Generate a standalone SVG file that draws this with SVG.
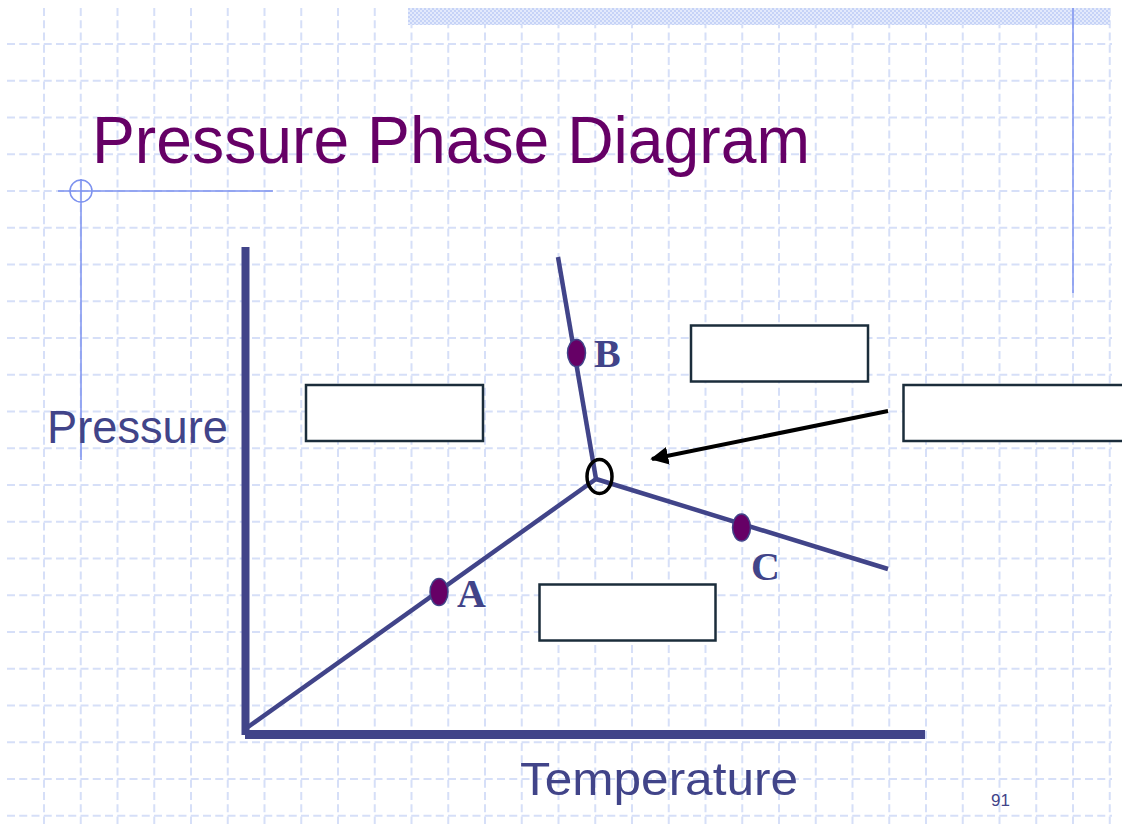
<svg xmlns="http://www.w3.org/2000/svg" width="1122" height="824" viewBox="0 0 1122 824">
<style>
.grid line{stroke:#d6dff8;stroke-width:2;stroke-dasharray:8 4.25}
.deco{stroke:#7d92ef;stroke-width:1.5;fill:none}
.curve{stroke:#414489;stroke-width:4.5;fill:none;stroke-linecap:butt}
.axis{stroke:#414489;fill:none}
.pt{fill:#660066;stroke:#414489;stroke-width:1.5}
.lbl{font-family:"Liberation Serif","Times New Roman",serif;font-weight:bold;font-size:40px;fill:#414489}
.box{fill:#fff;stroke:#1b2d3b;stroke-width:2.5}
.sans{font-family:"Liberation Sans",Arial,sans-serif}
</style>
<defs>
<pattern id="hatch" width="4" height="4" patternUnits="userSpaceOnUse">
<rect width="4" height="4" fill="#e3eafc"/>
<rect width="2" height="2" fill="#c6d3f7"/>
<rect x="2" y="2" width="2" height="2" fill="#c6d3f7"/>
</pattern>
<marker id="arr" viewBox="0 0 10 10" refX="9" refY="5" markerWidth="4.5" markerHeight="4.5" orient="auto" markerUnits="strokeWidth">
<path d="M0,0 L10,5 L0,10 z" fill="#000"/>
</marker>
</defs>
<rect width="1122" height="824" fill="#fff"/>
<g class="grid">
<line x1="7" y1="44" x2="1112" y2="44"/>
<line x1="7" y1="80.75" x2="1112" y2="80.75"/>
<line x1="7" y1="117.5" x2="1112" y2="117.5"/>
<line x1="7" y1="154.25" x2="1112" y2="154.25"/>
<line x1="7" y1="191" x2="1112" y2="191"/>
<line x1="7" y1="227.75" x2="1112" y2="227.75"/>
<line x1="7" y1="264.5" x2="1112" y2="264.5"/>
<line x1="7" y1="301.25" x2="1112" y2="301.25"/>
<line x1="7" y1="338" x2="1112" y2="338"/>
<line x1="7" y1="374.75" x2="1112" y2="374.75"/>
<line x1="7" y1="411.5" x2="1112" y2="411.5"/>
<line x1="7" y1="448.25" x2="1112" y2="448.25"/>
<line x1="7" y1="485" x2="1112" y2="485"/>
<line x1="7" y1="521.75" x2="1112" y2="521.75"/>
<line x1="7" y1="558.5" x2="1112" y2="558.5"/>
<line x1="7" y1="595.25" x2="1112" y2="595.25"/>
<line x1="7" y1="632" x2="1112" y2="632"/>
<line x1="7" y1="668.75" x2="1112" y2="668.75"/>
<line x1="7" y1="705.5" x2="1112" y2="705.5"/>
<line x1="7" y1="742.25" x2="1112" y2="742.25"/>
<line x1="7" y1="779" x2="1112" y2="779"/>
<line x1="7" y1="815.75" x2="1112" y2="815.75"/>
<line x1="44" y1="8" x2="44" y2="824"/>
<line x1="80.75" y1="8" x2="80.75" y2="824"/>
<line x1="117.5" y1="8" x2="117.5" y2="824"/>
<line x1="154.25" y1="8" x2="154.25" y2="824"/>
<line x1="191" y1="8" x2="191" y2="824"/>
<line x1="227.75" y1="8" x2="227.75" y2="824"/>
<line x1="264.5" y1="8" x2="264.5" y2="824"/>
<line x1="301.25" y1="8" x2="301.25" y2="824"/>
<line x1="338" y1="8" x2="338" y2="824"/>
<line x1="374.75" y1="8" x2="374.75" y2="824"/>
<line x1="411.5" y1="8" x2="411.5" y2="824"/>
<line x1="448.25" y1="8" x2="448.25" y2="824"/>
<line x1="485" y1="8" x2="485" y2="824"/>
<line x1="521.75" y1="8" x2="521.75" y2="824"/>
<line x1="558.5" y1="8" x2="558.5" y2="824"/>
<line x1="595.25" y1="8" x2="595.25" y2="824"/>
<line x1="632" y1="8" x2="632" y2="824"/>
<line x1="668.75" y1="8" x2="668.75" y2="824"/>
<line x1="705.5" y1="8" x2="705.5" y2="824"/>
<line x1="742.25" y1="8" x2="742.25" y2="824"/>
<line x1="779" y1="8" x2="779" y2="824"/>
<line x1="815.75" y1="8" x2="815.75" y2="824"/>
<line x1="852.5" y1="8" x2="852.5" y2="824"/>
<line x1="889.25" y1="8" x2="889.25" y2="824"/>
<line x1="926" y1="8" x2="926" y2="824"/>
<line x1="962.75" y1="8" x2="962.75" y2="824"/>
<line x1="999.5" y1="8" x2="999.5" y2="824"/>
<line x1="1036.25" y1="8" x2="1036.25" y2="824"/>
<line x1="1073" y1="8" x2="1073" y2="824"/>
<line x1="1109.75" y1="8" x2="1109.75" y2="824"/>
</g>
<g id="decoration">
<rect x="408" y="8" width="702" height="17" fill="url(#hatch)"/>
<line class="deco" x1="1073" y1="8" x2="1073" y2="293"/>
<line class="deco" x1="58" y1="191" x2="273" y2="191"/>
<circle class="deco" cx="81" cy="191" r="11"/>
<line class="deco" x1="81" y1="179" x2="81" y2="460"/>
</g>
<text id="title" class="sans" x="92" y="163" font-size="67" fill="#660066" textLength="718" lengthAdjust="spacingAndGlyphs">Pressure Phase Diagram</text>
<g id="axes">
<line class="axis" x1="245.5" y1="247" x2="245.5" y2="735" stroke-width="8"/>
<line class="axis" x1="245" y1="734.5" x2="925" y2="734.5" stroke-width="9"/>
<text class="sans" x="47" y="443" font-size="47" fill="#414489" textLength="181" lengthAdjust="spacingAndGlyphs">Pressure</text>
<text class="sans" x="520" y="795" font-size="47" fill="#414489" textLength="278" lengthAdjust="spacingAndGlyphs">Temperature</text>
</g>
<g id="connectors">
<line class="curve" x1="248" y1="727" x2="596" y2="479"/>
<line class="curve" x1="558" y1="257" x2="596" y2="479"/>
<line class="curve" x1="596" y1="479" x2="888" y2="569"/>
<line x1="888" y1="411" x2="652" y2="459" stroke="#000" stroke-width="4" marker-end="url(#arr)"/>
</g>
<g id="triple-point">
<ellipse cx="599.5" cy="476.5" rx="12.5" ry="17" fill="none" stroke="#000" stroke-width="3.5"/>
</g>
<g id="point-A">
<ellipse class="pt" cx="439" cy="592" rx="9" ry="13.5"/>
<text class="lbl" x="457" y="607">A</text>
</g>
<g id="point-B">
<ellipse class="pt" cx="576.5" cy="353" rx="9" ry="13.5"/>
<text class="lbl" x="594" y="367">B</text>
</g>
<g id="point-C">
<ellipse class="pt" cx="741.5" cy="527.5" rx="9" ry="13.5"/>
<text class="lbl" x="751" y="580">C</text>
</g>
<g id="box-1"><rect class="box" x="306" y="385" width="177" height="56"/></g>
<g id="box-2"><rect class="box" x="691" y="325.5" width="177" height="56"/></g>
<g id="box-3"><rect class="box" x="903.5" y="385" width="240" height="56"/></g>
<g id="box-4"><rect class="box" x="539.5" y="584.5" width="176" height="56"/></g>
<text id="page-number" class="sans" x="991" y="806" font-size="17" fill="#414489">91</text>
</svg>
